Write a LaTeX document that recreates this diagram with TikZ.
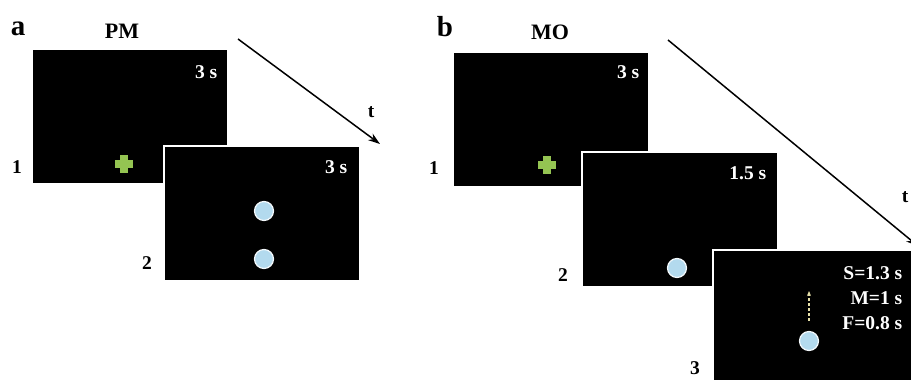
\documentclass[tikz,border=0pt]{standalone}
\usepackage{fontspec}
\setmainfont{Liberation Serif}
\usetikzlibrary{arrows.meta}
\definecolor{crossgreen}{HTML}{94C452}
\definecolor{dotblue}{HTML}{B3DAEE}
\definecolor{cueyellow}{HTML}{E6DFA8}
\tikzset{
    screennode/.style={draw=white,line width=1.5pt,fill=black,inner sep=0pt,minimum width=196pt,minimum height=135pt},
    dotnode/.style={circle,inner sep=0pt,minimum size=19pt,fill=dotblue,draw=white!85!dotblue,line width=1.2pt},
    crossnode/.style={inner sep=0pt,minimum size=18pt,fill=black,path picture={
        \fill[crossgreen] ([xshift=-4pt]path picture bounding box.north) rectangle ([xshift=4pt]path picture bounding box.south);
        \fill[crossgreen] ([yshift=4pt]path picture bounding box.west) rectangle ([yshift=-4pt]path picture bounding box.east);}},
    timelabel/.style={text=white,font=\fontsize{19.5}{25}\selectfont\bfseries,inner sep=0pt,anchor=east},
    numlabel/.style={font=\fontsize{19.5}{25}\selectfont\bfseries,inner sep=0pt},
    condlabel/.style={font=\fontsize{22}{25}\selectfont\bfseries,inner sep=0pt},
    panellabel/.style={font=\fontsize{29}{30}\selectfont\bfseries,inner sep=0pt}
}
\begin{document}
\begin{tikzpicture}[x=1pt,y=-1pt,>={Stealth[length=12pt,width=8pt]},line width=1.5pt]
\useasboundingbox (0,0) rectangle (911,380);

% panel a
\node[panellabel] (a) at (18,29) {a};
\node[condlabel] (PM) at (122,31) {PM};
\node[screennode] (A1) at (130,116.5) {};
\node[timelabel] (A1t) at (218,72) {3 s};
\node[crossnode] (A1c) at (124,164) {};
\node[screennode] (A2) at (262,213.5) {};
\node[timelabel] (A2t) at (348,167) {3 s};
\node[dotnode] (A2u) at (264,211) {};
\node[dotnode] (A2d) at (264,259) {};
\node[numlabel] (A1n) at (17,167) {1};
\node[numlabel] (A2n) at (147,263) {2};
\coordinate (At0) at (238,39);
\coordinate (At1) at (380,144);
\node[numlabel] (At) at (371,112) {t};

% panel b
\node[panellabel] (b) at (445,27) {b};
\node[condlabel] (MO) at (550,32) {MO};
\node[screennode] (B1) at (551,119.5) {};
\node[timelabel] (B1t) at (640,72) {3 s};
\node[crossnode] (B1c) at (547,165) {};
\node[screennode] (B2) at (680,219.5) {};
\node[timelabel] (B2t) at (767,173) {1.5 s};
\node[dotnode] (B2d) at (677,268) {};
\node[screennode,minimum width=200pt] (B3) at (813,317.5) {};
\node[timelabel,align=right] (B3t) at (903,298) {S=1.3 s\\M=1 s\\F=0.8 s};
\node[dotnode] (B3d) at (809,341) {};
\coordinate (B3m0) at (809,321);
\coordinate (B3m1) at (809,291);
\node[numlabel] (B1n) at (434,168) {1};
\node[numlabel] (B2n) at (563,275) {2};
\node[numlabel] (B3n) at (695,368) {3};
\coordinate (Bt0) at (668,40);
\coordinate (Bt1) at (918,246);
\node[numlabel] (Bt) at (905,197) {t};

\path[->]
(At0) edge (At1)
(Bt0) edge (Bt1);
\draw[->,cueyellow,line width=1.2pt,dash pattern=on 3pt off 2pt,>={Stealth[length=5pt,width=4pt]}] (B3m0) -- (B3m1);

\end{tikzpicture}
\end{document}
